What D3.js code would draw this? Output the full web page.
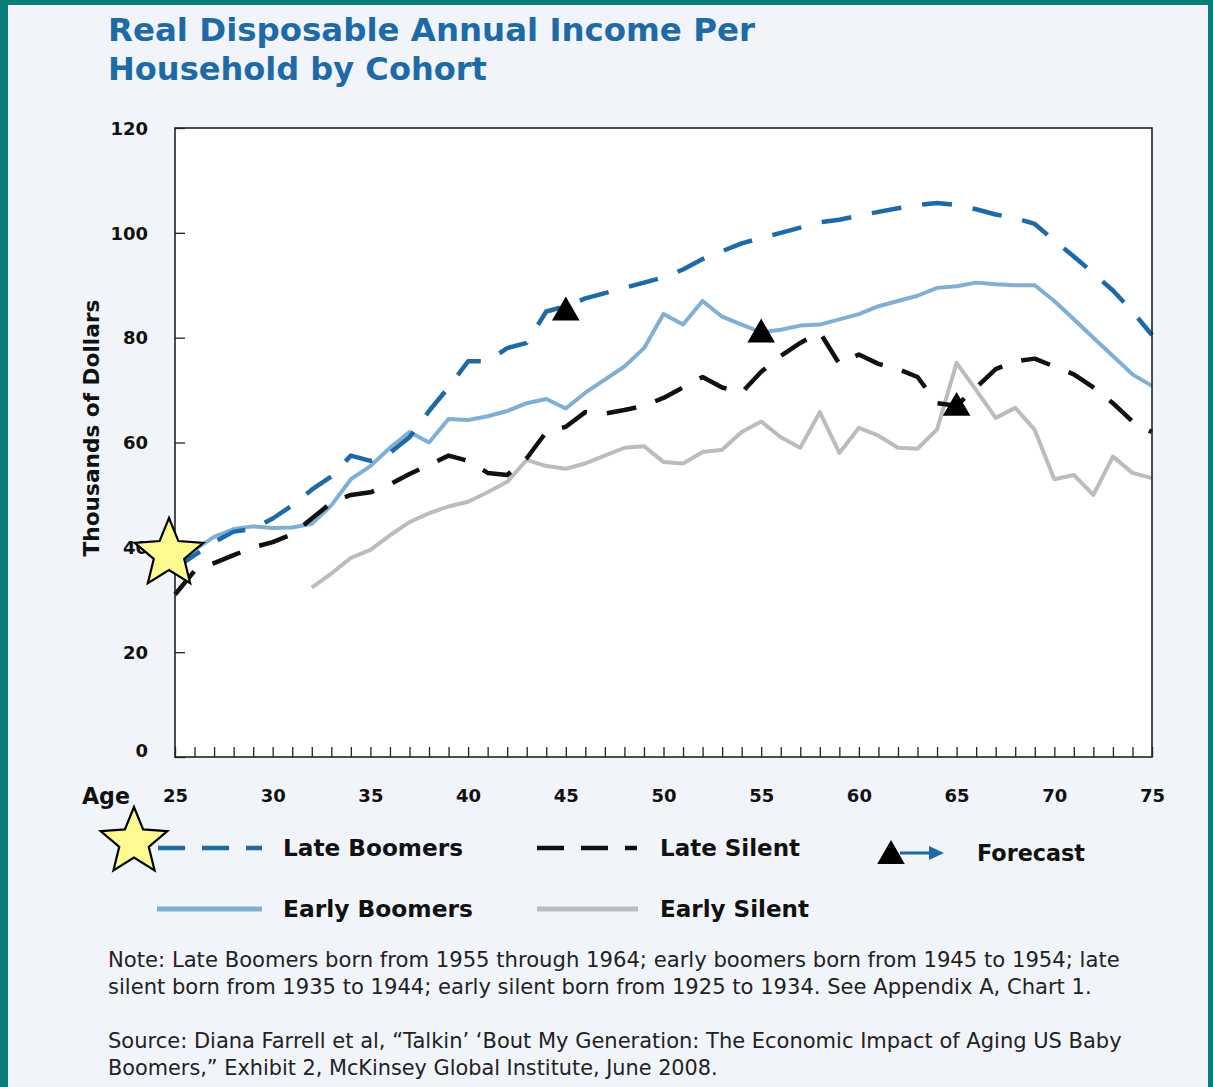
<!DOCTYPE html>
<html>
<head>
<meta charset="utf-8">
<script src="https://cdn.jsdelivr.net/npm/d3@7/dist/d3.min.js"></script>
<style>
  html, body { margin: 0; padding: 0; background: #f1f5fa; }
  svg { display: block; }
</style>
</head>
<body>
<svg id="chart" width="1213" height="1087"></svg>
<script>
// ---------------- DATA ----------------
const ages = [25,26,27,28,29,30,31,32,33,34,35,36,37,38,39,40,41,42,43,44,45,46,47,48,49,50,
              51,52,53,54,55,56,57,58,59,60,61,62,63,64,65,66,67,68,69,70,71,72,73,74,75];

const lateBoomers = [36,38.5,41,43,43.5,45.5,48,51,53.5,57.5,56.5,58,61,66,70.5,75.5,75.5,78,79,85,86,
                     87.5,88.5,89.5,90.5,91.5,93,95,96.5,98,99,100,101,102,102.5,103.3,104,104.7,105.3,105.7,105.3,
                     104.5,103.5,102.8,101.7,98.5,95.5,92.3,89,85,80.5];

const earlyBoomers = [37,39.5,42,43.5,44,43.7,43.8,44.5,48,53,55.5,59,62,60,64.5,64.3,65,66,67.5,68.3,66.5,
                      69.5,72,74.5,78,84.5,82.5,87,84,82.5,81,81.5,82.3,82.5,83.5,84.5,86,87,88,89.5,89.8,
                      90.5,90.2,90,90,87,83.5,80,76.5,73,70.8];

const lateSilent = [31,35.5,37,38.5,40,41,42.5,45.5,48.5,50,50.5,52,54,55.7,57.5,56.5,54.2,53.8,57,62,63,
                    65.8,65.5,66.2,67,68.5,70.5,72.5,70.5,69.5,73.5,76.5,79,81,75,76.8,75,74,72.5,67.5,67,
                    70.5,74,75.5,76,74.5,73,70.5,67.5,64,62];

const earlySilent = [null,null,null,null,null,null,null,32.3,35,38,39.5,42.3,44.8,46.5,47.8,48.7,50.5,52.5,56.7,55.5,55,
                     56,57.5,59,59.3,56.3,56,58.2,58.6,62,64,61,59,65.8,58,62.8,61.3,59,58.8,62.5,75.2,
                     70,64.7,66.6,62.4,53,53.8,50,57.3,54.2,53.2];

const forecastAges = [45, 55, 65];
const forecastValues = [84.8, 80.6, 66.6];

const yTicks = [0, 20, 40, 60, 80, 100, 120];
const xLabelTicks = [25, 30, 35, 40, 45, 50, 55, 60, 65, 70, 75];

const titleLines = ["Real Disposable Annual Income Per", "Household by Cohort"];
const yTitle = "Thousands of Dollars";
const xTitle = "Age";
const seriesNames = ["Late Boomers", "Late Silent", "Early Boomers", "Early Silent"];
const forecastLabel = "Forecast";
const noteLines = [
  "Note: Late Boomers born from 1955 through 1964; early boomers born from 1945 to 1954; late",
  "silent born from 1935 to 1944; early silent born from 1925 to 1934. See Appendix A, Chart 1."
];
const sourceLines = [
  "Source: Diana Farrell et al, \u201CTalkin\u2019 \u2018Bout My Generation: The Economic Impact of Aging US Baby",
  "Boomers,\u201D Exhibit 2, McKinsey Global Institute, June 2008."
];

// ---------------- LAYOUT ----------------
const W = 1213, H = 1087;
const plot = { left: 175, right: 1152, top: 128, bottom: 757 };
const FONT = "'DejaVu Sans', 'Open Sans', sans-serif";
const BLUE = "#1d6aa6";
const LIGHTBLUE = "#80afd5";
const GRAY = "#bcbcbc";

const svg = d3.select("#chart");

// background + teal frame
svg.append("rect").attr("x", 0).attr("y", 0).attr("width", W).attr("height", H).attr("fill", "#f1f5fa");
svg.append("rect").attr("x", 0).attr("y", 0).attr("width", 8).attr("height", H).attr("fill", "#0b7e7c");
svg.append("rect").attr("x", 0).attr("y", 0).attr("width", W).attr("height", 5).attr("fill", "#0b7e7c");
svg.append("rect").attr("x", W - 5).attr("y", 0).attr("width", 5).attr("height", H).attr("fill", "#0b7e7c");

// scale font size so the text spans a target width
function fitWidth(sel, target) {
  const fs = parseFloat(sel.attr("font-size"));
  const len = sel.node().getComputedTextLength();
  if (len > 0) sel.attr("font-size", (fs * target / len).toFixed(2));
  return sel;
}

// title
const titleWidths = [647, 379];
const titleBase = [41, 80];
titleLines.forEach((t, i) => {
  const s = svg.append("text")
    .attr("x", 108).attr("y", titleBase[i])
    .attr("font-family", FONT).attr("font-weight", 700).attr("font-size", 30)
    .attr("fill", BLUE).text(t);
  fitWidth(s, titleWidths[i]);
});

// scales
const x = d3.scaleLinear().domain([25, 75]).range([plot.left, plot.right]);
const y = d3.scaleLinear().domain([0, 120]).range([plot.bottom, plot.top]);

// plot background
svg.append("rect")
  .attr("x", plot.left).attr("y", plot.top)
  .attr("width", plot.right - plot.left).attr("height", plot.bottom - plot.top)
  .attr("fill", "#ffffff");

// x minor ticks (every year, inward)
const xMinor = svg.append("g").attr("transform", `translate(0,${plot.bottom})`)
  .call(d3.axisBottom(x).tickValues(ages).tickSize(-10).tickFormat(""));
xMinor.select(".domain").remove();
xMinor.selectAll("line").attr("stroke", "#222").attr("stroke-width", 1.3);

// x labels
const xLab = svg.append("g").attr("transform", `translate(0,${plot.bottom})`)
  .call(d3.axisBottom(x).tickValues(xLabelTicks).tickSize(0).tickPadding(32).tickFormat(d3.format("d")));
xLab.select(".domain").remove();
xLab.selectAll("text").attr("font-family", FONT).attr("font-weight", 700).attr("font-size", 18).attr("fill", "#111");

// y axis
const yAx = svg.append("g").attr("transform", `translate(${plot.left},0)`)
  .call(d3.axisLeft(y).tickValues(yTicks).tickSize(-10).tickPadding(27));
yAx.select(".domain").remove();
yAx.selectAll("line").attr("stroke", "#222").attr("stroke-width", 1.3);
yAx.selectAll("text").attr("font-family", FONT).attr("font-weight", 700).attr("font-size", 18).attr("fill", "#111")
  .attr("dy", d => d === 0 ? "-0.05em" : "0.35em");

// axis titles
fitWidth(svg.append("text")
  .attr("transform", `translate(99,428) rotate(-90)`)
  .attr("text-anchor", "middle")
  .attr("font-family", FONT).attr("font-weight", 700).attr("font-size", 18).attr("fill", "#111")
  .text(yTitle), 257);
fitWidth(svg.append("text")
  .attr("x", 82).attr("y", 804)
  .attr("font-family", FONT).attr("font-weight", 700).attr("font-size", 21).attr("fill", "#111")
  .text(xTitle), 48);

// lines
const lineGen = d3.line()
  .defined(d => d[1] !== null)
  .x(d => x(d[0])).y(d => y(d[1]));

const series = [
  { vals: earlySilent,  color: GRAY,      width: 4,   dash: null },
  { vals: earlyBoomers, color: LIGHTBLUE, width: 4,   dash: null },
  { vals: lateSilent,   color: "#111",    width: 4.5, dash: "30,20" },
  { vals: lateBoomers,  color: BLUE,      width: 4.5, dash: "30,21" }
];

series.forEach(s => {
  svg.append("path")
    .datum(ages.map((a, i) => [a, s.vals[i]]))
    .attr("d", lineGen)
    .attr("fill", "none")
    .attr("stroke", s.color)
    .attr("stroke-width", s.width)
    .attr("stroke-linejoin", "round")
    .attr("stroke-dasharray", s.dash);
});

// forecast triangles
const tri = d3.symbol().type(d3.symbolTriangle).size(330);
svg.selectAll(".fc").data(forecastAges).enter().append("path")
  .attr("class", "fc")
  .attr("d", tri)
  .attr("transform", (d, i) => `translate(${x(d)},${y(forecastValues[i])})`)
  .attr("fill", "#000");

// plot frame
svg.append("rect")
  .attr("x", plot.left).attr("y", plot.top)
  .attr("width", plot.right - plot.left).attr("height", plot.bottom - plot.top)
  .attr("fill", "none").attr("stroke", "#222").attr("stroke-width", 1.6);

// star helper
function starPath(cx, cy, R, r) {
  const pts = [];
  for (let k = 0; k < 10; k++) {
    const ang = -Math.PI / 2 + k * Math.PI / 5;
    const rad = k % 2 === 0 ? R : r;
    pts.push([cx + rad * Math.cos(ang), cy + rad * Math.sin(ang)]);
  }
  return "M" + pts.map(p => p.join(",")).join("L") + "Z";
}

// legend
const legend = svg.append("g");
const legendItems = [
  { name: seriesNames[0], x0: 158, x1: 262, y: 848, color: BLUE,      width: 4.5, dash: "27,17", tw: 180 },
  { name: seriesNames[1], x0: 537, x1: 637, y: 848, color: "#111",    width: 4.5, dash: "27,17", tw: 140 },
  { name: seriesNames[2], x0: 157, x1: 262, y: 909, color: LIGHTBLUE, width: 5,   dash: null,    tw: 190 },
  { name: seriesNames[3], x0: 537, x1: 638, y: 909, color: GRAY,      width: 5,   dash: null,    tw: 149 }
];
legendItems.forEach((it, i) => {
  legend.append("line")
    .attr("x1", it.x0).attr("x2", it.x1).attr("y1", it.y).attr("y2", it.y)
    .attr("stroke", it.color).attr("stroke-width", it.width).attr("stroke-dasharray", it.dash);
  const t = legend.append("text")
    .attr("x", i % 2 === 0 ? 283 : 660).attr("y", it.y + 8)
    .attr("font-family", FONT).attr("font-weight", 700).attr("font-size", 22).attr("fill", "#111")
    .text(it.name);
  fitWidth(t, it.tw);
});

// forecast legend icon
legend.append("path").attr("d", tri).attr("transform", `translate(891,856)`).attr("fill", "#000");
legend.append("line").attr("x1", 900).attr("x2", 932).attr("y1", 853).attr("y2", 853)
  .attr("stroke", BLUE).attr("stroke-width", 3);
legend.append("path").attr("d", "M929,846 L944,853 L929,860 Z").attr("fill", BLUE);
fitWidth(legend.append("text")
  .attr("x", 977).attr("y", 861)
  .attr("font-family", FONT).attr("font-weight", 700).attr("font-size", 22).attr("fill", "#111")
  .text(forecastLabel), 108);

// annotation stars
svg.append("path").attr("d", starPath(169, 554, 36, 16))
  .attr("fill", "#fdfa8f").attr("stroke", "#000").attr("stroke-width", 2.2).attr("stroke-linejoin", "miter");
svg.append("path").attr("d", starPath(134, 842, 35, 15.5))
  .attr("fill", "#fdfa8f").attr("stroke", "#000").attr("stroke-width", 2.2).attr("stroke-linejoin", "miter");

// notes
const noteWidths = [1012, 984];
const noteBase = [967, 994];
noteLines.forEach((t, i) => {
  fitWidth(svg.append("text").attr("x", 108).attr("y", noteBase[i])
    .attr("font-family", FONT).attr("font-size", 18).attr("fill", "#222").text(t), noteWidths[i]);
});
const srcWidths = [1014, 610];
const srcBase = [1048, 1075];
sourceLines.forEach((t, i) => {
  fitWidth(svg.append("text").attr("x", 108).attr("y", srcBase[i])
    .attr("font-family", FONT).attr("font-size", 18).attr("fill", "#222").text(t), srcWidths[i]);
});
</script>
</body>
</html>
